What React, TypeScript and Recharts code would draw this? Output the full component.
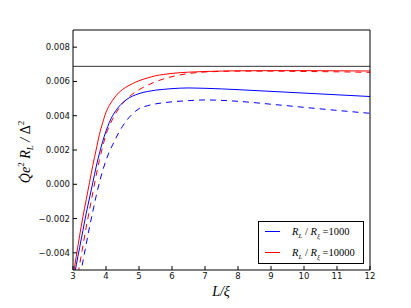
import React from 'react'
import { LineChart, Line, XAxis, YAxis, ReferenceLine } from 'recharts'

// L / xi sample points
const lValues = [3, 3.1, 3.2, 3.3, 3.4, 3.5, 3.6, 3.7, 3.8, 3.9, 4.0, 4.1, 4.2, 4.3, 4.4, 4.5, 4.6, 4.7, 4.8, 4.9, 5.0, 5.25, 5.5, 5.75, 6, 6.5, 7, 8, 9, 10, 11, 12]

// R_L / R_xi = 1000 (blue)
const blueSolid = [-0.0058, -0.0047, -0.0037, -0.0027, -0.0017, -0.0008, 0.0001, 0.001, 0.0018, 0.0025, 0.0031, 0.0036, 0.004, 0.0043, 0.00455, 0.00475, 0.00491, 0.00504, 0.00514, 0.00522, 0.00529, 0.00541, 0.00549, 0.00554, 0.00558, 0.00562, 0.0056, 0.00552, 0.00542, 0.00532, 0.00522, 0.00512]
const blueDashed = [-0.0079, -0.0067, -0.0056, -0.0045, -0.0035, -0.0025, -0.0016, -0.0007, 0.0001, 0.0008, 0.0014, 0.0019, 0.0023, 0.0027, 0.00306, 0.00338, 0.00366, 0.0039, 0.0041, 0.00427, 0.00441, 0.00458, 0.00469, 0.00476, 0.00481, 0.00488, 0.00492, 0.00484, 0.00467, 0.00449, 0.00431, 0.00414]

// R_L / R_xi = 10000 (red)
const redSolid = [-0.0054, -0.0042, -0.003, -0.0019, -0.0009, 0.0001, 0.0011, 0.002, 0.0029, 0.0036, 0.0042, 0.0046, 0.0049, 0.00516, 0.00537, 0.00553, 0.00566, 0.00577, 0.00587, 0.00596, 0.00604, 0.0062, 0.00633, 0.00641, 0.00647, 0.00654, 0.00658, 0.00662, 0.00663, 0.00663, 0.00662, 0.00661]
const redDashed = [-0.0071, -0.0059, -0.0047, -0.0036, -0.0025, -0.0015, -0.0005, 0.0005, 0.0014, 0.0022, 0.0029, 0.0034, 0.0038, 0.00415, 0.00445, 0.0047, 0.00492, 0.0051, 0.00526, 0.0054, 0.00552, 0.00577, 0.00598, 0.00615, 0.00628, 0.00646, 0.00655, 0.0066, 0.0066, 0.00658, 0.00656, 0.00653]

const limitValue = 0.00688

const xTicks = [3, 4, 5, 6, 7, 8, 9, 10, 11, 12]
const yTicks = [-0.004, -0.002, 0, 0.002, 0.004, 0.006, 0.008]

const legendItems = [
  { color: '#0000ff', value: '1000' },
  { color: '#ff0000', value: '10000' },
]

const chartData = lValues.map((l, i) => ({
  l,
  blueSolid: blueSolid[i],
  blueDashed: blueDashed[i],
  redSolid: redSolid[i],
  redDashed: redDashed[i],
}))

const fmtY = (v: number) => v.toFixed(3).replace('-', '\u2212')

const tickFont = { fontFamily: 'DejaVu Sans', fontSize: 8.5, fill: '#111' }
const mathFont = "'Liberation Serif', serif"

if (typeof document !== 'undefined') document.body.style.margin = '0'

export default function App() {
  return (
    <div style={{ position: 'relative', width: 411, height: 308, background: '#fff' }}>
      <LineChart width={411} height={308} data={chartData} margin={{ top: 29, right: 40, bottom: 0, left: 0 }}>
        <XAxis
          xAxisId="bottom"
          dataKey="l"
          type="number"
          domain={[3, 12]}
          ticks={xTicks}
          allowDataOverflow
          height={38}
          tickSize={-4}
          tickMargin={7}
          stroke="#000"
          tick={tickFont}
        />
        <XAxis
          xAxisId="top"
          orientation="top"
          dataKey="l"
          type="number"
          domain={[3, 12]}
          ticks={xTicks}
          height={1}
          tickSize={-4}
          tick={false}
          stroke="#000"
        />
        <YAxis
          yAxisId="left"
          type="number"
          domain={[-0.005, 0.009]}
          ticks={yTicks}
          allowDataOverflow
          width={73}
          tickSize={-4}
          tickMargin={7}
          tickFormatter={fmtY}
          stroke="#000"
          tick={tickFont}
        />
        <YAxis
          yAxisId="right"
          orientation="right"
          type="number"
          domain={[-0.005, 0.009]}
          ticks={yTicks}
          width={1}
          tickSize={-4}
          tick={false}
          stroke="#000"
        />
        <ReferenceLine xAxisId="bottom" yAxisId="left" y={limitValue} stroke="#333" strokeWidth={1} />
        <Line xAxisId="bottom" yAxisId="left" type="monotone" dataKey="blueDashed" stroke="#0000ff" strokeWidth={1} strokeDasharray="6 5" dot={false} isAnimationActive={false} />
        <Line xAxisId="bottom" yAxisId="left" type="monotone" dataKey="redDashed" stroke="#ff0000" strokeWidth={1} strokeDasharray="6 5" dot={false} isAnimationActive={false} />
        <Line xAxisId="bottom" yAxisId="left" type="monotone" dataKey="blueSolid" stroke="#0000ff" strokeWidth={1} dot={false} isAnimationActive={false} />
        <Line xAxisId="bottom" yAxisId="left" type="monotone" dataKey="redSolid" stroke="#ff0000" strokeWidth={1} dot={false} isAnimationActive={false} />
      </LineChart>

      {/* axis labels */}
      <svg width={411} height={308} style={{ position: 'absolute', left: 0, top: 0, pointerEvents: 'none' }}>
        <text
          transform="translate(30,152) rotate(-90)"
          textAnchor="middle"
          fontFamily={mathFont}
          fontStyle="italic"
          fontSize={14}
          fill="#000"
        >
          <tspan>Q&#775;e</tspan>
          <tspan fontSize={9} dy={-6} fontStyle="normal">2</tspan>
          <tspan dy={6}> R</tspan>
          <tspan fontSize={9} dy={3}>L</tspan>
          <tspan dy={-3}> / </tspan>
          <tspan fontStyle="normal">Δ</tspan>
          <tspan fontSize={9} dy={-6} fontStyle="normal">2</tspan>
        </text>
        <text x={221} y={296} textAnchor="middle" fontFamily={mathFont} fontStyle="italic" fontSize={14} fill="#000">
          L/ξ
        </text>
      </svg>

      {/* legend */}
      <svg width={107} height={44} style={{ position: 'absolute', left: 258, top: 221 }}>
        <rect x={0.5} y={0.5} width={105} height={42} fill="#fff" stroke="#000" strokeWidth={1} />
        {legendItems.map((item, i) => {
          const y = 10.5 + i * 21
          return (
            <g key={i}>
              <line x1={7} x2={22} y1={y} y2={y} stroke={item.color} strokeWidth={1} />
              <text x={34} y={y + 3.5} fontFamily={mathFont} fontSize={10.5} fill="#000">
                <tspan fontStyle="italic">R</tspan>
                <tspan fontStyle="italic" fontSize={7} dy={2.5}>L</tspan>
                <tspan dy={-2.5}> / </tspan>
                <tspan fontStyle="italic">R</tspan>
                <tspan fontStyle="italic" fontSize={7} dy={2.5}>ξ</tspan>
                <tspan dy={-2.5}> ={item.value}</tspan>
              </text>
            </g>
          )
        })}
      </svg>
    </div>
  )
}
